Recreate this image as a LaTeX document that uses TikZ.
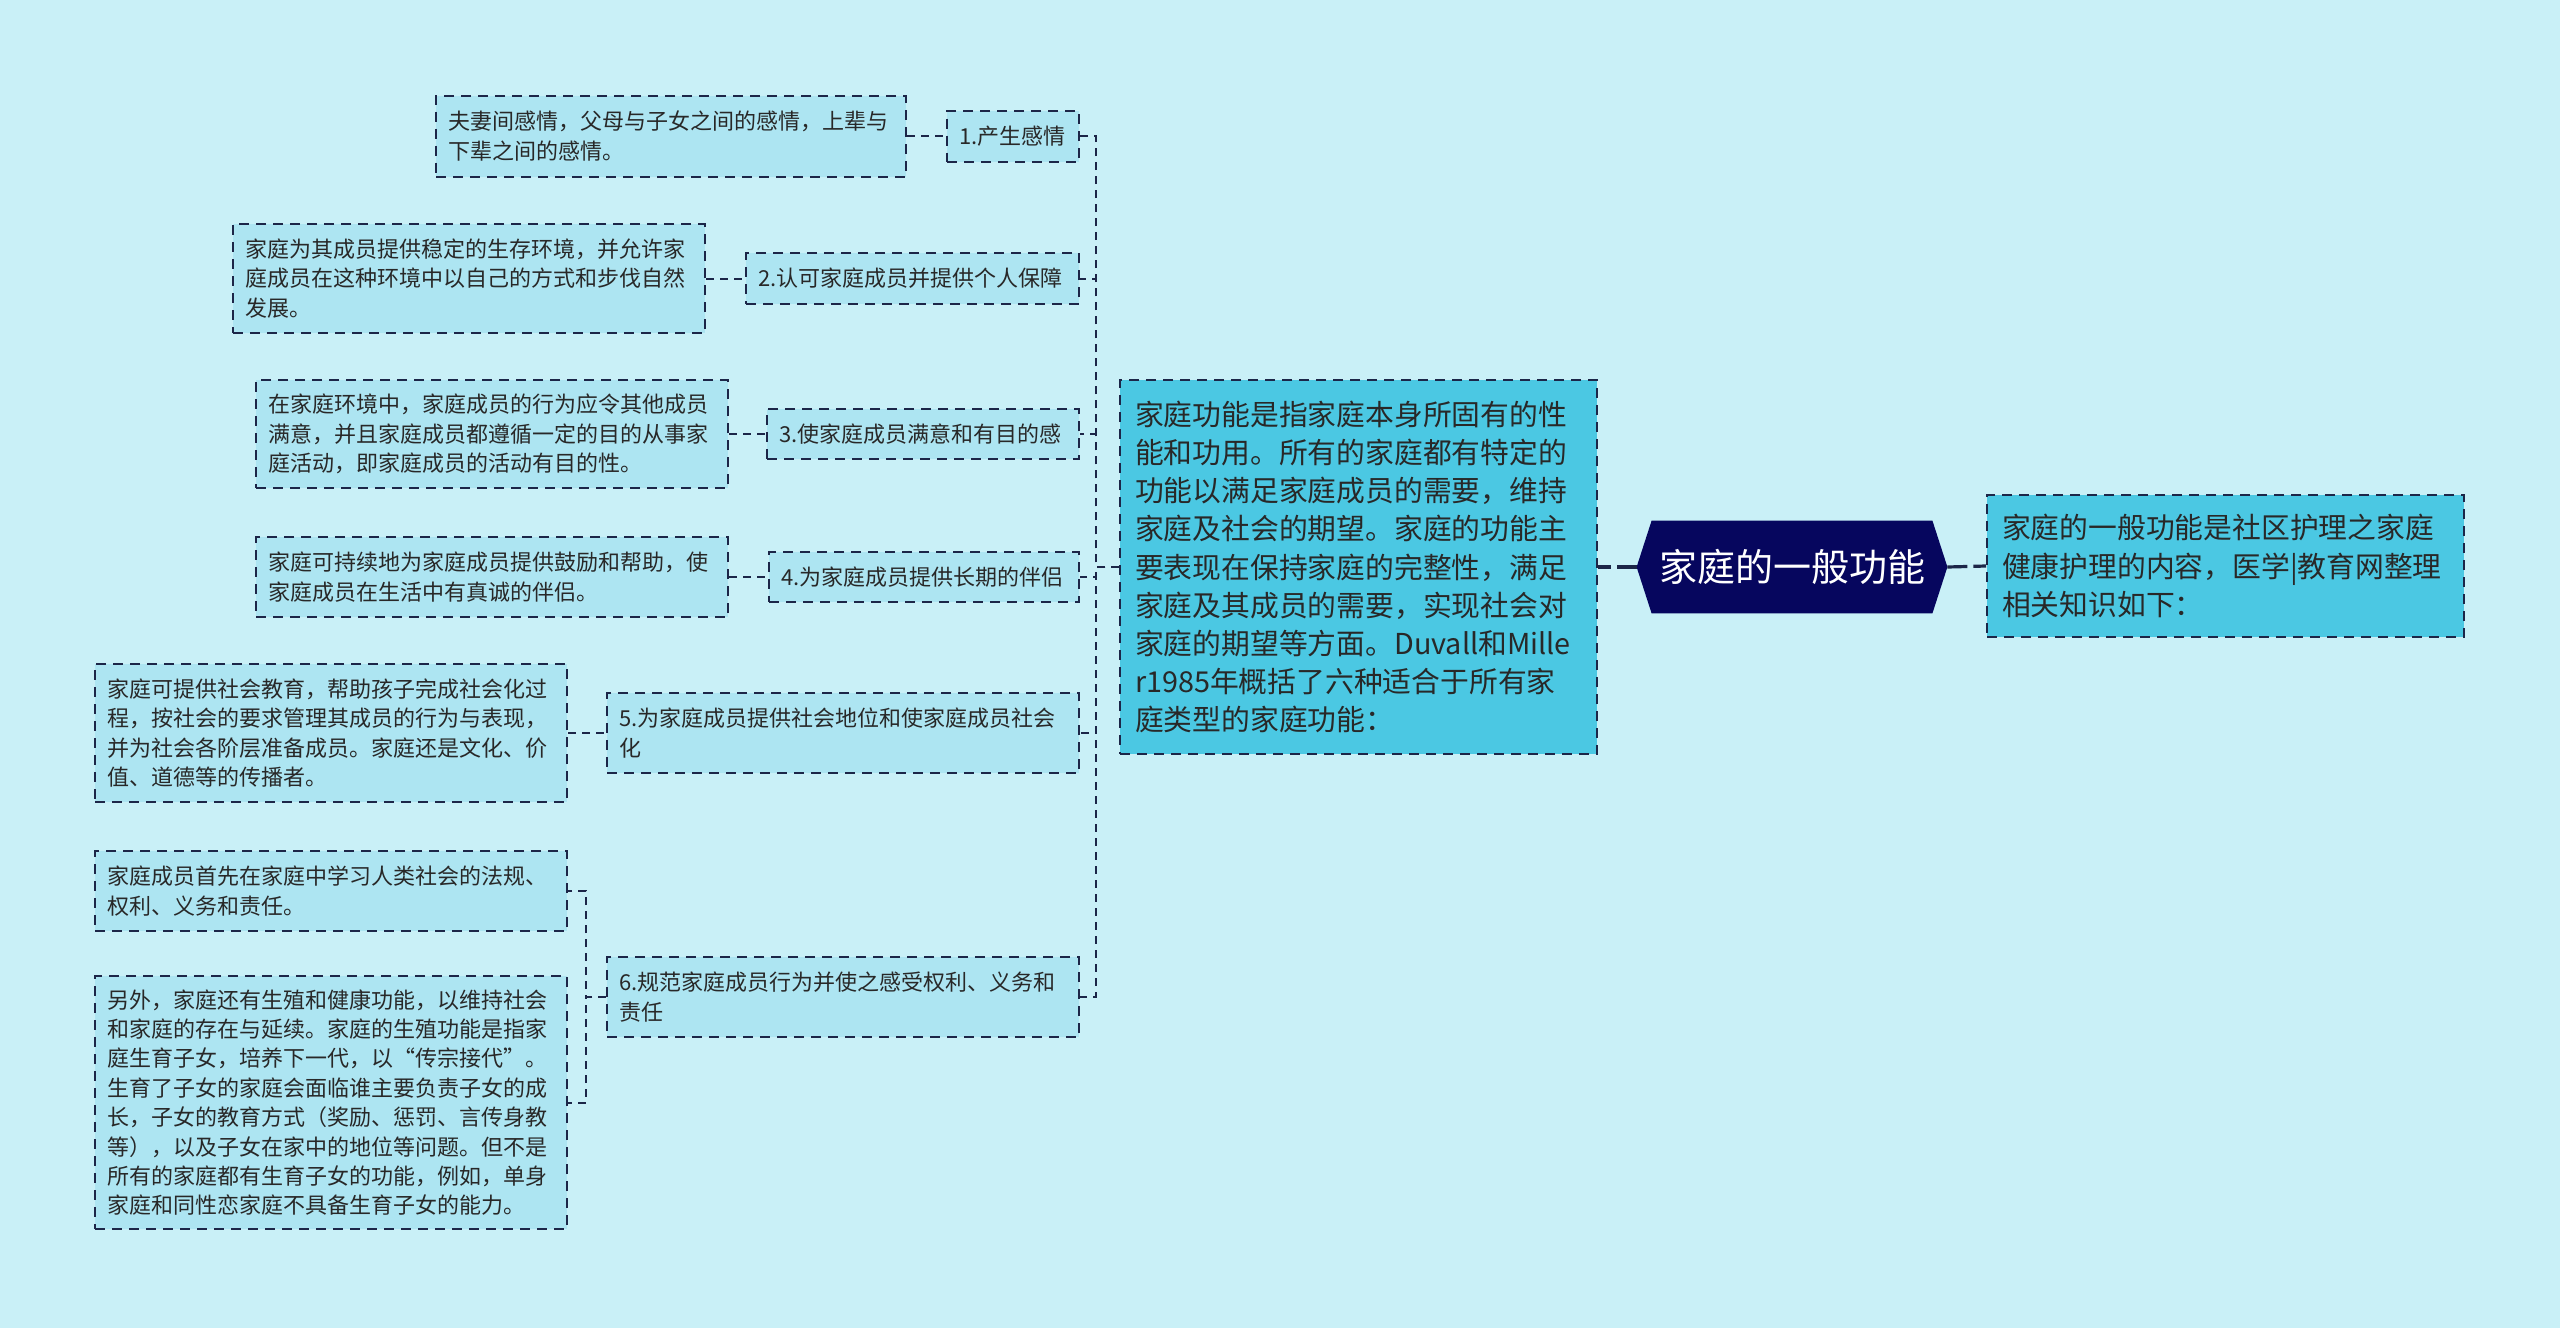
\documentclass[tikz,border=0pt]{standalone}
\usepackage{fontspec}
\setmainfont{Noto Sans CJK SC}
\usetikzlibrary{backgrounds}
\definecolor{bgc}{RGB}{201,240,247}
\definecolor{detc}{RGB}{173,229,242}
\definecolor{midc}{RGB}{75,200,227}
\definecolor{bordc}{RGB}{28,38,72}
\definecolor{rootc}{RGB}{6,6,94}
\definecolor{txtc}{RGB}{40,40,40}
\tikzset{
  box/.style={draw=bordc, line width=1pt, dash pattern=on 5pt off 3.5pt, fill=detc,
    align=left, inner xsep=6pt, inner ysep=0pt, text=txtc,
    font=\fontsize{11}{14.7}\selectfont},
  bigbox/.style={box, fill=midc, inner xsep=7.5pt, font=\fontsize{14.4}{19.1}\selectfont},
  rootbox/.style={inner sep=0pt, minimum width=155pt, minimum height=46pt, text=white,
    font=\fontsize{19}{22}\selectfont},
  conn/.style={draw=bordc, line width=1pt, dash pattern=on 4pt off 3pt},
  rootconn/.style={draw=bordc, line width=1.6pt, dash pattern=on 10pt off 3pt},
}
\begin{document}
\begin{tikzpicture}[x=0.5pt,y=-0.5pt]
\useasboundingbox (0,0) rectangle (2560,1328);

% root
\node[rootbox] (root) at (1792,567) {家庭的一般功能};
\begin{pgfonlayer}{background}
\fill[bgc] (0,0) rectangle (2560,1328);
\fill[rootc] (root.west) -- ([xshift=7.5pt]root.north west) -- ([xshift=-7.5pt]root.north east)
  -- (root.east) -- ([xshift=-7.5pt]root.south east) -- ([xshift=7.5pt]root.south west) -- cycle;
\end{pgfonlayer}

\node[bigbox, text width=223.5pt, minimum height=187pt] (mid) at (1358.5,567)
{家庭功能是指家庭本身所固有的性\\能和功用。所有的家庭都有特定的\\功能以满足家庭成员的需要，维持\\家庭及社会的期望。家庭的功能主\\要表现在保持家庭的完整性，满足\\家庭及其成员的需要，实现社会对\\家庭的期望等方面。Duvall和Mille\\r1985年概括了六种适合于所有家\\庭类型的家庭功能：};

\node[bigbox, text width=223.5pt, minimum height=71pt] (right) at (2225.5,566)
{家庭的一般功能是社区护理之家庭\\健康护理的内容，医学|教育网整理\\相关知识如下：};

% items
\node[box, text width=54pt, minimum height=25.5pt] (i1) at (1013,136) {1.产生感情};
\node[box, text width=154.5pt, minimum height=25.5pt] (i2) at (912.5,278.5) {2.认可家庭成员并提供个人保障};
\node[box, text width=144pt, minimum height=25pt] (i3) at (923,434) {3.使家庭成员满意和有目的感};
\node[box, text width=143pt, minimum height=25pt] (i4) at (924,577) {4.为家庭成员提供长期的伴侣};
\node[box, text width=224pt, minimum height=40pt] (i5) at (843,733) {5.为家庭成员提供社会地位和使家庭成员社会\\化};
\node[box, text width=224pt, minimum height=40pt] (i6) at (843,997) {6.规范家庭成员行为并使之感受权利、义务和\\责任};

% details
\node[box, text width=223pt, minimum height=40.5pt] (d1) at (671,136)
{夫妻间感情，父母与子女之间的感情，上辈与\\下辈之间的感情。};
\node[box, text width=224pt, minimum height=54.5pt] (d2) at (469,278.5)
{家庭为其成员提供稳定的生存环境，并允许家\\庭成员在这种环境中以自己的方式和步伐自然\\发展。};
\node[box, text width=224pt, minimum height=54pt] (d3) at (492,434)
{在家庭环境中，家庭成员的行为应令其他成员\\满意，并且家庭成员都遵循一定的目的从事家\\庭活动，即家庭成员的活动有目的性。};
\node[box, text width=224pt, minimum height=40pt] (d4) at (492,577)
{家庭可持续地为家庭成员提供鼓励和帮助，使\\家庭成员在生活中有真诚的伴侣。};
\node[box, text width=224pt, minimum height=69pt] (d5) at (331,733)
{家庭可提供社会教育，帮助孩子完成社会化过\\程，按社会的要求管理其成员的行为与表现，\\并为社会各阶层准备成员。家庭还是文化、价\\值、道德等的传播者。};
\node[box, text width=224pt, minimum height=40pt] (d6a) at (331,891)
{家庭成员首先在家庭中学习人类社会的法规、\\权利、义务和责任。};
\node[box, text width=224pt, minimum height=126.5pt] (d6b) at (331,1102.5)
{另外，家庭还有生殖和健康功能，以维持社会\\和家庭的存在与延续。家庭的生殖功能是指家\\庭生育子女，培养下一代，以“传宗接代”。\\生育了子女的家庭会面临谁主要负责子女的成\\长，子女的教育方式（奖励、惩罚、言传身教\\等），以及子女在家中的地位等问题。但不是\\所有的家庭都有生育子女的功能，例如，单身\\家庭和同性恋家庭不具备生育子女的能力。};

% connectors
\draw[rootconn] (root.west) -- (mid.east);
\draw[rootconn] (root.east) -- (right.west);
\foreach \i in {i1,i2,i3,i4,i5,i6}{
  \draw[conn] (mid.west) -- ++(-23,0) |- (\i.east);
}
\draw[conn] (d1.east) -- (i1.west);
\draw[conn] (d2.east) -- (i2.west);
\draw[conn] (d3.east) -- (i3.west);
\draw[conn] (d4.east) -- (i4.west);
\draw[conn] (d5.east) -- (i5.west);
\draw[conn] (i6.west) -- ++(-20,0) |- (d6a.east);
\draw[conn] (i6.west) -- ++(-20,0) |- (d6b.east);
\end{tikzpicture}
\end{document}
